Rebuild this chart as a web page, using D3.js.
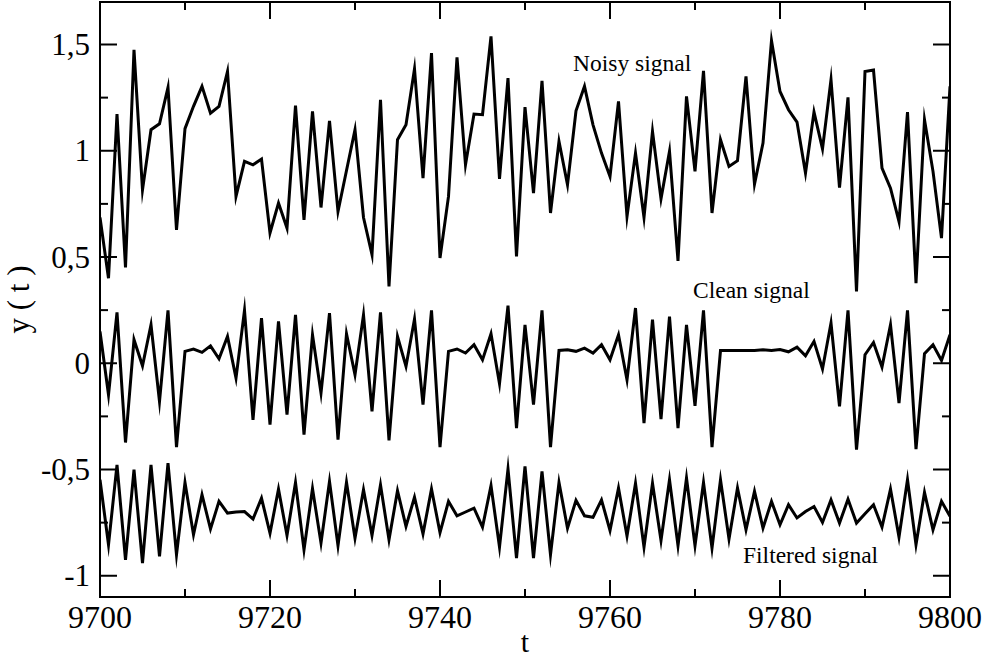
<!DOCTYPE html>
<html>
<head>
<meta charset="utf-8">
<script src="https://cdn.jsdelivr.net/npm/d3@7"></script>
<style>
  html, body { margin: 0; padding: 0; background: #fff; }
  svg { display: block; }
  text { font-family: "Liberation Serif", "DejaVu Serif", serif; fill: #000; }
</style>
</head>
<body>
<svg id="chart" width="985" height="660"></svg>
<script>
const tStart = 9700;
const noisy = [0.686,0.40,1.173,0.451,1.475,0.816,1.099,1.127,1.298,0.628,1.104,1.209,1.303,1.177,1.209,1.373,0.785,0.950,0.934,0.961,0.613,0.754,0.636,1.212,0.675,1.185,0.733,1.141,0.714,0.907,1.099,0.686,0.511,1.240,0.362,1.052,1.122,1.385,0.871,1.46,0.495,0.785,1.439,0.934,1.173,1.17,1.538,0.868,1.342,0.503,1.205,0.801,1.329,0.707,1.044,0.84,1.188,1.303,1.122,0.989,0.879,1.232,0.691,0.989,0.686,1.091,0.774,0.997,0.482,1.256,0.903,1.376,0.707,1.052,0.926,0.953,1.35,0.843,1.036,1.518,1.279,1.193,1.135,0.895,1.182,1.009,1.334,0.827,1.251,0.338,1.373,1.38,0.918,0.824,0.667,1.182,0.377,1.146,0.903,0.589,1.303];
const clean = [0.15,-0.148,0.239,-0.373,0.111,-0.012,0.181,-0.18,0.249,-0.395,0.056,0.067,0.051,0.082,0.021,0.126,-0.07,0.249,-0.266,0.212,-0.289,0.197,-0.242,0.228,-0.336,0.134,-0.14,0.236,-0.36,0.139,-0.054,0.228,-0.227,0.239,-0.363,0.126,-0.015,0.208,-0.195,0.249,-0.395,0.056,0.067,0.048,0.087,0.016,0.139,-0.096,0.271,-0.305,0.181,-0.195,0.249,-0.395,0.06,0.063,0.056,0.071,0.048,0.087,0.016,0.134,-0.078,0.26,-0.282,0.205,-0.263,0.22,-0.305,0.181,-0.2,0.249,-0.395,0.06,0.06,0.06,0.06,0.06,0.063,0.06,0.065,0.054,0.076,0.035,0.103,-0.027,0.189,-0.203,0.249,-0.407,0.04,0.098,-0.018,0.181,-0.188,0.249,-0.404,0.045,0.087,0.013,0.134];
const filtered = [-0.548,-0.854,-0.478,-0.925,-0.501,-0.94,-0.478,-0.909,-0.47,-0.901,-0.561,-0.807,-0.619,-0.78,-0.65,-0.705,-0.70,-0.698,-0.733,-0.635,-0.8,-0.592,-0.81,-0.561,-0.878,-0.59,-0.846,-0.556,-0.858,-0.56,-0.823,-0.595,-0.81,-0.572,-0.831,-0.6,-0.768,-0.63,-0.803,-0.592,-0.797,-0.65,-0.718,-0.70,-0.682,-0.771,-0.576,-0.865,-0.498,-0.917,-0.485,-0.917,-0.509,-0.901,-0.561,-0.776,-0.645,-0.718,-0.725,-0.643,-0.787,-0.587,-0.813,-0.565,-0.865,-0.565,-0.834,-0.548,-0.858,-0.54,-0.858,-0.561,-0.87,-0.548,-0.827,-0.587,-0.784,-0.603,-0.776,-0.65,-0.76,-0.666,-0.728,-0.698,-0.674,-0.749,-0.643,-0.752,-0.64,-0.752,-0.708,-0.666,-0.771,-0.592,-0.818,-0.548,-0.854,-0.608,-0.784,-0.65,-0.72];
const xTicks = [9700,9720,9740,9760,9780,9800];
const yTicks = [-1,-0.5,0,0.5,1,1.5];
const yTickLabels = ["-1","-0,5","0","0,5","1","1,5"];
const seriesLabels = ["Noisy signal","Clean signal","Filtered signal"];

const svg = d3.select("#chart");
const L = 100, R = 950, T = 2, B = 597;
const x = d3.scaleLinear().domain([9700, 9800]).range([L, R]);
const y = d3.scaleLinear().domain([-1.1, 1.7]).range([B, T]);

const line = d3.line().x((d, i) => x(tStart + i)).y(d => y(d));
const clipId = "plotclip";
svg.append("clipPath").attr("id", clipId).append("rect")
  .attr("x", L).attr("y", T).attr("width", R - L).attr("height", B - T);

const g = svg.append("g").attr("clip-path", `url(#${clipId})`);
[noisy, clean, filtered].forEach(s => {
  g.append("path").datum(s).attr("d", line)
    .attr("fill", "none").attr("stroke", "#000").attr("stroke-width", 3)
    .attr("stroke-linejoin", "miter").attr("stroke-miterlimit", 10);
});

// Frame
svg.append("rect").attr("x", L).attr("y", T).attr("width", R - L).attr("height", B - T)
  .attr("fill", "none").attr("stroke", "#000").attr("stroke-width", 2);

// ticks (inward on all sides)
const major = 17, minor = 8;
const xMinor = d3.range(9710, 9800, 20);
const yMinor = d3.range(-0.75, 1.7, 0.5);
const tk = svg.append("g").attr("stroke", "#000").attr("stroke-width", 2);
xTicks.forEach(v => {
  tk.append("line").attr("x1", x(v)).attr("x2", x(v)).attr("y1", B).attr("y2", B - major);
  tk.append("line").attr("x1", x(v)).attr("x2", x(v)).attr("y1", T).attr("y2", T + major);
});
xMinor.forEach(v => {
  tk.append("line").attr("x1", x(v)).attr("x2", x(v)).attr("y1", B).attr("y2", B - minor);
  tk.append("line").attr("x1", x(v)).attr("x2", x(v)).attr("y1", T).attr("y2", T + minor);
});
yTicks.forEach(v => {
  tk.append("line").attr("y1", y(v)).attr("y2", y(v)).attr("x1", L).attr("x2", L + major);
  tk.append("line").attr("y1", y(v)).attr("y2", y(v)).attr("x1", R).attr("x2", R - major);
});
yMinor.forEach(v => {
  tk.append("line").attr("y1", y(v)).attr("y2", y(v)).attr("x1", L).attr("x2", L + minor);
  tk.append("line").attr("y1", y(v)).attr("y2", y(v)).attr("x1", R).attr("x2", R - minor);
});

// tick labels
xTicks.forEach(v => {
  svg.append("text").attr("x", x(v)).attr("y", 628).attr("text-anchor", "middle")
    .attr("font-size", 32).text(String(v));
});
yTicks.forEach((v, i) => {
  svg.append("text").attr("x", 90).attr("y", y(v)).attr("dy", "0.34em").attr("text-anchor", "end")
    .attr("font-size", 31).text(yTickLabels[i]);
});

// axis titles
svg.append("text").attr("x", (L + R) / 2).attr("y", 652).attr("text-anchor", "middle")
  .attr("font-size", 30).text("t");
svg.append("text").attr("transform", `translate(29,${(T + B) / 2}) rotate(-90)`)
  .attr("text-anchor", "middle").attr("font-size", 31).text("y ( t )");

// series labels
const labelPos = [[573, 71], [693, 298], [743, 563]];
seriesLabels.forEach((s, i) => {
  svg.append("text").attr("x", labelPos[i][0]).attr("y", labelPos[i][1])
    .attr("font-size", 23.5).text(s);
});
</script>
</body>
</html>
